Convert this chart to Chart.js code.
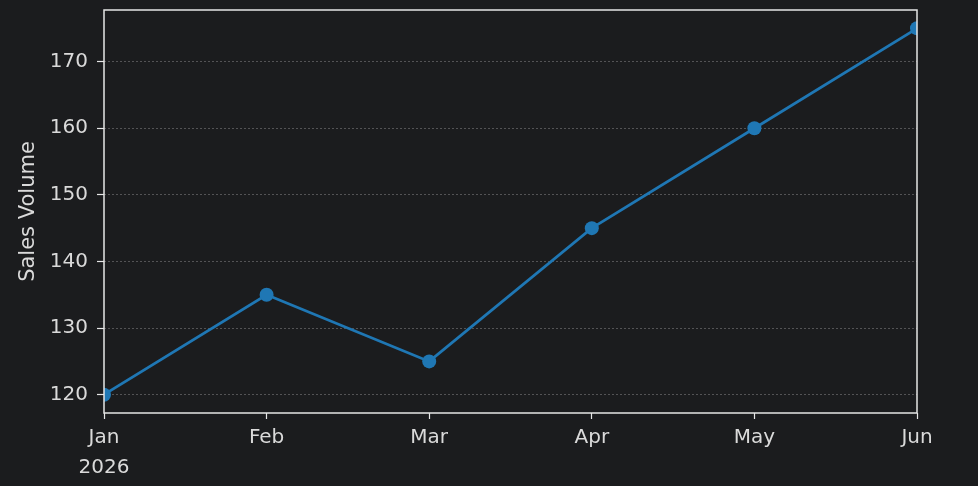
<!DOCTYPE html>
<html>
<head>
<meta charset="utf-8">
<script src="https://cdn.jsdelivr.net/npm/chart.js@4"></script>
<style>
  html, body { margin: 0; padding: 0; background: #1b1c1e; }
  #wrap { width: 978px; height: 486px; }
</style>
</head>
<body>
<div id="wrap"><canvas id="linechart"></canvas></div>
<script>
const months = ['Jan', 'Feb', 'Mar', 'Apr', 'May', 'Jun'];
const year = '2026';
const salesVolume = [120, 135, 125, 145, 160, 175];
const yTicks = [120, 130, 140, 150, 160, 170];

const textColor = '#dadada';
const frameColor = '#e6e6e6';

// white frame on all four sides of the plot area
const frame = {
  id: 'frame',
  afterDraw(chart) {
    const { ctx, chartArea: a } = chart;
    ctx.save();
    ctx.strokeStyle = frameColor;
    ctx.lineWidth = 1.5;
    ctx.strokeRect(a.left, a.top, a.right - a.left, a.bottom - a.top);
    ctx.restore();
  }
};

const ctx1 = document.getElementById('linechart').getContext('2d');

const linechart = new Chart(ctx1, {
  type: 'line',
  data: {
    datasets: [{
      label: 'Sales Volume',
      data: salesVolume.map((v, i) => ({ x: i, y: v })),
      borderColor: '#1f77b4',
      backgroundColor: '#1f77b4',
      borderWidth: 2.7,
      pointRadius: 7,
      pointHoverRadius: 7,
      pointBorderWidth: 0,
      tension: 0,
      clip: 0
    }]
  },
  options: {
    responsive: true,
    maintainAspectRatio: false,
    animation: false,
    layout: { padding: { left: 0, right: 61, top: 10, bottom: 0 } },
    plugins: {
      legend: { display: false },
      tooltip: { enabled: false }
    },
    scales: {
      x: {
        type: 'linear',
        min: 0,
        max: months.length - 1,
        afterBuildTicks: axis => {
          axis.ticks = months.map((m, i) => ({ value: i }));
        },
        afterFit: axis => {
          axis.height = 73;
          axis.paddingLeft = 0;
          axis.paddingRight = 0;
        },
        ticks: {
          color: textColor,
          font: { family: 'DejaVu Sans', size: 20, lineHeight: 1.5 },
          padding: 4,
          maxRotation: 0,
          autoSkip: false,
          callback: v => (v === 0 ? [months[v], year] : months[v])
        },
        grid: {
          drawOnChartArea: false,
          drawTicks: true,
          tickLength: 6,
          tickColor: frameColor,
          tickWidth: 1.2
        },
        border: { display: false }
      },
      y: {
        min: 117.25,
        max: 177.75,
        afterBuildTicks: axis => {
          axis.ticks = yTicks.map(v => ({ value: v }));
        },
        afterFit: axis => {
          axis.width = 104;
          axis.paddingTop = 0;
          axis.paddingBottom = 0;
        },
        title: {
          display: true,
          text: 'Sales Volume',
          color: textColor,
          font: { family: 'DejaVu Sans', size: 21 },
          padding: { top: 16, bottom: 0 }
        },
        ticks: {
          color: textColor,
          font: { family: 'DejaVu Sans', size: 20 },
          padding: 9
        },
        grid: {
          color: 'rgba(170,170,170,0.5)',
          lineWidth: 0.8,
          tickLength: 7,
          tickColor: frameColor,
          tickWidth: 1.2
        },
        border: { display: false, dash: [2, 2] }
      }
    }
  },
  plugins: [frame]
});
</script>
</body>
</html>
